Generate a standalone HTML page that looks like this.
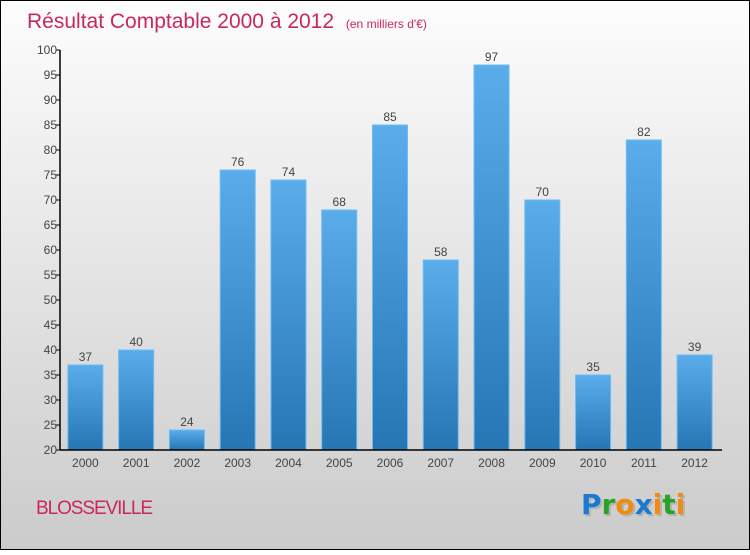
<!DOCTYPE html>
<html><head><meta charset="utf-8"><style>
body{margin:0;width:750px;height:550px;overflow:hidden;font-family:"Liberation Sans",sans-serif}
</style></head><body>
<svg width="750" height="550" xmlns="http://www.w3.org/2000/svg">
<defs>
<linearGradient id="bg" x1="0" y1="0" x2="0" y2="1"><stop offset="0" stop-color="#fdfdfd"/><stop offset="1" stop-color="#cbcbcb"/></linearGradient>
<linearGradient id="bar" x1="0" y1="0" x2="0" y2="1"><stop offset="0" stop-color="#5aaceb"/><stop offset="1" stop-color="#2676b4"/></linearGradient>
</defs>
<rect x="0.5" y="0.5" width="749" height="549" fill="url(#bg)" stroke="#000"/>
<text x="27" y="28" font-size="21" fill="#c8285a">Résultat Comptable 2000 à 2012 <tspan font-size="12" dx="6">(en milliers d'€)</tspan></text>
<g id="plot"></g>
<text x="36" y="514" font-size="19" fill="#c8285a" textLength="117">BLOSSEVILLE</text>
<g font-size="28" font-weight="bold" font-family="'DejaVu Sans',sans-serif">
<text x="583" y="516" fill="#999" opacity="0.5">Proxiti</text>
<text x="581" y="514"><tspan fill="#1a7ad0">P</tspan><tspan fill="#2aa22a">r</tspan><tspan fill="#f08a10">o</tspan><tspan fill="#1a7ad0">x</tspan><tspan fill="#f08a10">i</tspan><tspan fill="#2aa22a">t</tspan><tspan fill="#f08a10">i</tspan></text>
</g>
</svg>
<script>
const categories=["2000","2001","2002","2003","2004","2005","2006","2007","2008","2009","2010","2011","2012"];
const values=[37,40,24,76,74,68,85,58,97,70,35,82,39];
const yTicks=[20,25,30,35,40,45,50,55,60,65,70,75,80,85,90,95,100];
const NS="http://www.w3.org/2000/svg";
const g=document.getElementById('plot');
const x0=60,x1=720,yMin=20,yMax=100,py0=450,py1=50;
const band=(x1-x0)/categories.length;
const y=v=>py0-(v-yMin)/(yMax-yMin)*(py0-py1);
function el(t,a,p){const e=document.createElementNS(NS,t);for(const k in a)e.setAttribute(k,a[k]);(p||g).appendChild(e);return e;}
categories.forEach((c,i)=>{
  const bx=x0+i*band+(band-35)/2,v=values[i];
  const r=el('rect',{x:bx,y:y(v),width:35,height:py0-y(v),fill:'url(#bar)',stroke:'#6bbcf5','stroke-width':1});
  
  
  const t=el('text',{x:bx+17.5,y:y(v)-4,'text-anchor':'middle','font-size':12,fill:'#444'});t.textContent=v;
  
  
  const xl=el('text',{x:bx+17.5,y:467,'text-anchor':'middle','font-size':12,fill:'#444'});xl.textContent=c;
  
  
});
yTicks.forEach(v=>{
  el('line',{x1:x0-4,x2:x0,y1:y(v),y2:y(v),stroke:'#000'});
  const t=el('text',{x:x0-3,y:y(v)+4,'text-anchor':'end','font-size':12,fill:'#444'});t.textContent=v;
  
  
});
const ya=el('line',{x1:x0,x2:x0,y1:py1,y2:py0,stroke:'#000','stroke-width':1.5});


const xa=el('line',{x1:x0,x2:722,y1:py0,y2:py0,stroke:'#000','stroke-width':1.5});


</script>
</body></html>
